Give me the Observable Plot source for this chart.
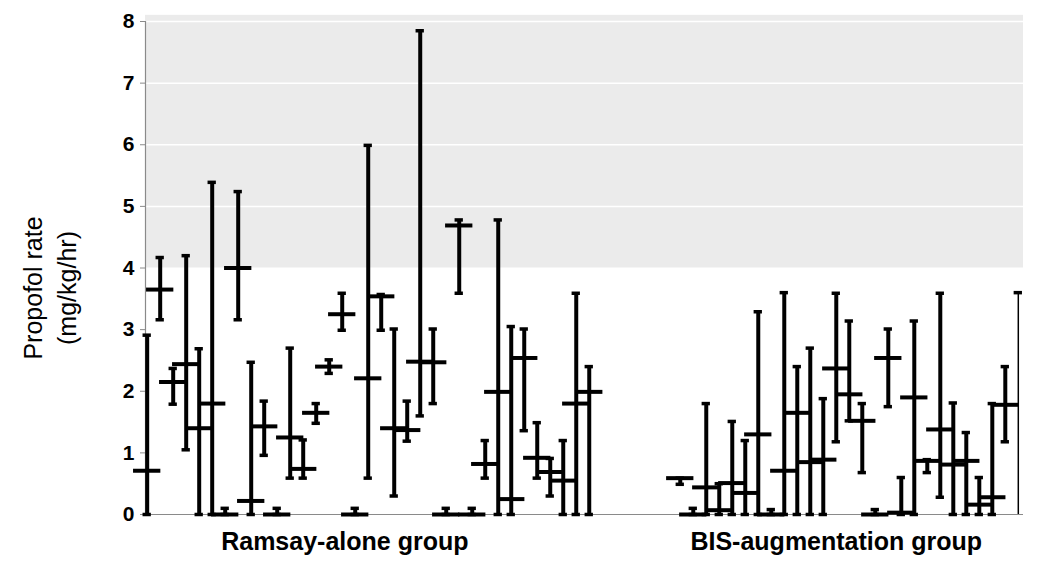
<!DOCTYPE html>
<html>
<head>
<meta charset="utf-8">
<script src="https://cdn.jsdelivr.net/npm/d3@7"></script>
<script src="https://cdn.jsdelivr.net/npm/@observablehq/plot@0.6"></script>
<style>
  html, body { margin: 0; padding: 0; background: #fff; }
  #chart svg { display: block; font-family: "Liberation Sans", Arial, sans-serif; }
</style>
</head>
<body>
<div id="chart"></div>
<script>
// ---- Data ----
const groups = ["Ramsay-alone group", "BIS-augmentation group"];
const groupLabelSlot = [15.2, 53];   // where each group label sits on the patient-slot axis
const bisStart = 41;                 // first slot of the BIS group

const ramsayLow    = [0, 3.16, 1.79, 1.05, 0, 0, 0, 3.16, 0, 0.96, 0, 0.59, 0.59, 1.48, 2.29, 2.99, 0, 0.59, 2.99, 0.30, 1.19, 1.60, 1.80, 0, 3.59, 0, 0.59, 0, 0, 1.36, 0.59, 0.30, 0, 0, 0];
const ramsayHigh   = [2.91, 4.17, 2.37, 4.20, 2.69, 5.39, 0.1, 5.24, 2.47, 1.84, 0.1, 2.70, 1.21, 1.80, 2.51, 3.59, 0.1, 5.99, 3.57, 3.01, 1.84, 7.85, 3.01, 0.1, 4.78, 0.1, 1.20, 4.78, 3.05, 3.01, 1.49, 0.91, 1.20, 3.59, 2.40];
const ramsayMedian = [0.71, 3.65, 2.15, 2.44, 1.40, 1.80, 0, 4.00, 0.22, 1.43, 0, 1.25, 0.74, 1.65, 2.40, 3.25, 0, 2.21, 3.54, 1.40, 1.37, 2.48, 2.47, 0, 4.69, 0, 0.82, 1.99, 0.25, 2.54, 0.92, 0.69, 0.55, 1.80, 1.99];

const bisLow    = [0.49, 0, 0, 0, 0, 0, 0, 0, 0, 0, 0, 0, 1.18, 1.52, 0.68, 0, 1.75, 0, 0, 0.68, 0.28, 0, 0, 0, 0, 1.18, 0];
const bisHigh   = [0.59, 0.1, 1.80, 0.50, 1.51, 1.20, 3.29, 0.08, 3.60, 2.40, 2.70, 1.88, 3.59, 3.14, 1.80, 0.08, 3.01, 0.60, 3.14, 0.89, 3.59, 1.81, 1.33, 0.60, 1.80, 2.40, 3.60];
const bisMedian = [0.59, 0, 0.44, 0.07, 0.51, 0.35, 1.30, 0, 0.71, 1.65, 0.85, 0.89, 2.37, 1.95, 1.52, 0, 2.54, 0.03, 1.90, 0.87, 1.38, 0.81, 0.87, 0.16, 0.28, 1.78, null];

const yTicks = [0, 1, 2, 3, 4, 5, 6, 7, 8];
const shadedRange = [4, 8.1];
const gridValues = [5, 6, 7, 8];
const yTitle = ["Propofol rate", "(mg/kg/hr)"];

// ---- Table built from the arrays ----
const rows = [
  ...ramsayLow.map((lo, i) => ({group: groups[0], slot: i, low: lo, high: ramsayHigh[i], median: ramsayMedian[i]})),
  ...bisLow.map((lo, i) => ({group: groups[1], slot: bisStart + i, low: lo, high: bisHigh[i], median: bisMedian[i]}))
];
const lastSlot = bisStart + bisLow.length - 1;
const thick = rows.filter(d => d.slot !== lastSlot);
const thin = rows.filter(d => d.slot === lastSlot);
const withMedian = rows.filter(d => d.median != null);

const xDomain = [-0.13, 67.4];
const capHalf = 0.32;
const medHalf = 1.05;

const chart = Plot.plot({
  width: 1050,
  height: 569,
  marginLeft: 145,
  marginRight: 27,
  marginTop: 21,
  marginBottom: 55,
  x: {domain: xDomain, axis: null},
  y: {domain: [0, 8], axis: null},
  marks: [
    Plot.rect([shadedRange], {x1: () => xDomain[0], x2: () => xDomain[1], y1: d => d[0], y2: d => d[1], fill: "#ebebeb"}),
    Plot.ruleY(gridValues, {stroke: "#ffffff", strokeWidth: 1.5}),
    Plot.ruleY([0], {stroke: "#8a8a8a", strokeWidth: 1.2}),
    Plot.ruleX([xDomain[0]], {y1: 0, y2: 8, stroke: "#8a8a8a", strokeWidth: 1.2}),
    Plot.axisY({ticks: yTicks, tickSize: 5, tickPadding: 6, stroke: "#8a8a8a", fontSize: 21, fontWeight: "bold", label: null, tickFormat: d3.format("d")}),
    // whiskers
    Plot.ruleX(thick, {x: "slot", y1: "low", y2: "high", stroke: "#000", strokeWidth: 4}),
    Plot.ruleX(thin, {x: "slot", y1: "low", y2: "high", stroke: "#000", strokeWidth: 1.5}),
    // caps
    Plot.ruleY(rows, {y: "high", x1: d => d.slot - capHalf, x2: d => d.slot + capHalf, stroke: "#000", strokeWidth: 3.5}),
    Plot.ruleY(thick, {y: "low", x1: d => d.slot - capHalf, x2: d => d.slot + capHalf, stroke: "#000", strokeWidth: 3.5}),
    // medians
    Plot.ruleY(withMedian, {y: "median", x1: d => d.slot - medHalf, x2: d => d.slot + medHalf, stroke: "#000", strokeWidth: 4}),
    // group labels
    Plot.axisX({ticks: groupLabelSlot, tickFormat: (d, i) => groups[i], tickSize: 0, tickPadding: 18, fontSize: 25, fontWeight: "bold", label: null}),
    // y title
    Plot.text([yTitle[0]], {text: d => d, frameAnchor: "left", textAnchor: "middle", rotate: -90, dx: -112, dy: 20, fontSize: 25}),
    Plot.text([yTitle[1]], {text: d => d, frameAnchor: "left", textAnchor: "middle", rotate: -90, dx: -78, dy: 20, fontSize: 25})
  ]
});
document.getElementById("chart").appendChild(chart);
</script>
</body>
</html>
